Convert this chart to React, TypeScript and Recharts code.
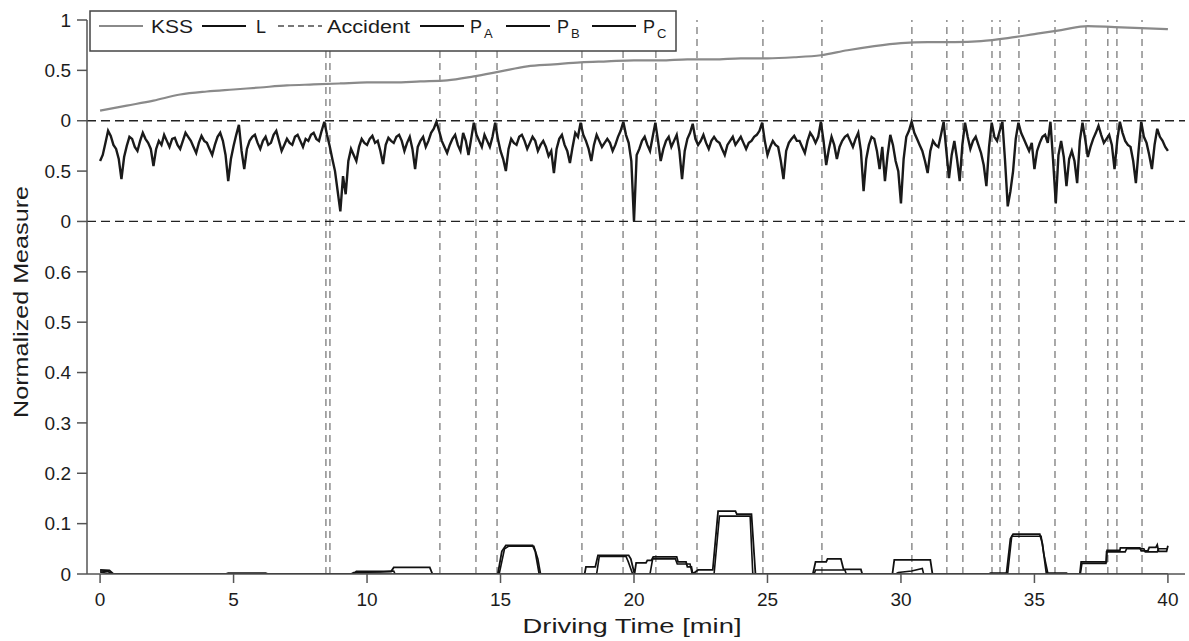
import React from 'react';
import { LineChart, Line, XAxis, YAxis, ReferenceLine } from 'recharts';

// stacked panels share one y axis: P (0..0.7), L (0.7..0.9), KSS (0.9..1.1)
const L_BASE = 0.7;
const KSS_BASE = 0.9;
const PANEL_SPAN = 0.2;

const xTicks = [0, 5, 10, 15, 20, 25, 30, 35, 40];
const yTicks = [0, 0.1, 0.2, 0.3, 0.4, 0.5, 0.6, 0.7, 0.8, 0.9, 1.0, 1.1];
const yTickLabels = ['0', '0.1', '0.2', '0.3', '0.4', '0.5', '0.6', '0', '0.5', '0', '0.5', '1'];

const kssTime = [0, 1, 2, 3, 4, 5, 6, 7, 8, 9, 10, 11, 12, 13, 14, 15, 16, 17, 18, 19, 20,
  21, 22, 23, 24, 25, 26, 27, 28, 29, 30, 31, 32, 33, 34, 35, 36, 37, 38, 39, 40];
const kssValues = [0.10, 0.15, 0.20, 0.26, 0.29, 0.31, 0.33, 0.35, 0.36, 0.37, 0.38, 0.38, 0.39, 0.40,
  0.44, 0.49, 0.54, 0.56, 0.58, 0.59, 0.60, 0.60, 0.61, 0.61, 0.62, 0.62, 0.63, 0.65, 0.70, 0.74,
  0.77, 0.78, 0.78, 0.79, 0.82, 0.86, 0.90, 0.94, 0.93, 0.92, 0.91];

// L sampled every 0.1 min, one row per minute
const L_STEP = 0.1;
const lValues = [
  0.60, 0.66, 0.78, 0.90, 0.85, 0.76, 0.72, 0.62, 0.42, 0.64,
  0.75, 0.84, 0.82, 0.74, 0.70, 0.80, 0.88, 0.82, 0.78, 0.72,
  0.55, 0.72, 0.80, 0.76, 0.86, 0.80, 0.74, 0.82, 0.83, 0.76,
  0.72, 0.80, 0.88, 0.84, 0.80, 0.74, 0.68, 0.78, 0.85, 0.80,
  0.78, 0.72, 0.66, 0.76, 0.84, 0.88, 0.80, 0.66, 0.40, 0.62,
  0.75, 0.86, 0.96, 0.70, 0.52, 0.72, 0.80, 0.84, 0.86, 0.78,
  0.72, 0.80, 0.84, 0.76, 0.78, 0.86, 0.90, 0.80, 0.70, 0.76,
  0.82, 0.78, 0.76, 0.84, 0.86, 0.80, 0.74, 0.82, 0.80, 0.86,
  0.88, 0.82, 0.80, 0.90, 0.99, 0.86, 0.75, 0.62, 0.50, 0.30,
  0.10, 0.45, 0.27, 0.60, 0.72, 0.66, 0.60, 0.74, 0.82, 0.78,
  0.76, 0.82, 0.85, 0.78, 0.80, 0.70, 0.57, 0.76, 0.83, 0.80,
  0.78, 0.84, 0.86, 0.80, 0.70, 0.78, 0.84, 0.72, 0.52, 0.74,
  0.80, 0.84, 0.74, 0.80, 0.88, 0.92, 0.99, 0.90, 0.80, 0.74,
  0.68, 0.76, 0.82, 0.86, 0.76, 0.70, 0.88, 0.80, 0.66, 0.82,
  0.98, 0.86, 0.80, 0.74, 0.86, 0.80, 0.74, 0.84, 0.98, 0.82,
  0.70, 0.62, 0.50, 0.72, 0.82, 0.78, 0.76, 0.84, 0.86, 0.80,
  0.72, 0.78, 0.84, 0.80, 0.70, 0.76, 0.80, 0.74, 0.65, 0.70,
  0.48, 0.72, 0.82, 0.86, 0.76, 0.70, 0.58, 0.74, 0.88, 0.84,
  0.98, 0.86, 0.80, 0.72, 0.60, 0.76, 0.86, 0.80, 0.74, 0.78,
  0.82, 0.78, 0.70, 0.76, 0.84, 0.90, 0.99, 0.86, 0.78, 0.60,
  0.00, 0.66, 0.72, 0.80, 0.84, 0.76, 0.70, 0.84, 0.98, 0.80,
  0.60, 0.72, 0.80, 0.84, 0.74, 0.80, 0.86, 0.70, 0.42, 0.70,
  0.82, 0.88, 0.97, 0.82, 0.76, 0.80, 0.86, 0.78, 0.72, 0.80,
  0.84, 0.80, 0.78, 0.72, 0.66, 0.76, 0.80, 0.84, 0.76, 0.80,
  0.84, 0.78, 0.72, 0.78, 0.80, 0.84, 0.86, 0.90, 0.98, 0.80,
  0.66, 0.74, 0.80, 0.76, 0.74, 0.60, 0.42, 0.70, 0.78, 0.82,
  0.85, 0.80, 0.80, 0.74, 0.68, 0.80, 0.88, 0.84, 0.78, 0.84,
  0.99, 0.80, 0.56, 0.72, 0.84, 0.76, 0.62, 0.74, 0.80, 0.84,
  0.86, 0.80, 0.74, 0.82, 0.88, 0.70, 0.30, 0.62, 0.76, 0.84,
  0.82, 0.70, 0.52, 0.74, 0.40, 0.66, 0.86, 0.76, 0.60, 0.50,
  0.18, 0.62, 0.84, 0.90, 0.99, 0.88, 0.82, 0.76, 0.70, 0.60,
  0.48, 0.70, 0.80, 0.76, 0.74, 0.86, 0.99, 0.70, 0.43, 0.66,
  0.80, 0.62, 0.40, 0.76, 0.98, 0.84, 0.72, 0.80, 0.84, 0.76,
  0.68, 0.56, 0.35, 0.74, 0.98, 0.84, 0.80, 0.90, 0.99, 0.60,
  0.15, 0.30, 0.50, 0.82, 0.98, 0.88, 0.82, 0.76, 0.70, 0.78,
  0.52, 0.70, 0.78, 0.84, 0.86, 0.78, 0.99, 0.60, 0.18, 0.66,
  0.80, 0.64, 0.35, 0.62, 0.70, 0.60, 0.38, 0.80, 0.98, 0.82,
  0.64, 0.74, 0.82, 0.88, 0.95, 0.86, 0.78, 0.82, 0.86, 0.76,
  0.52, 0.80, 0.99, 0.88, 0.80, 0.76, 0.74, 0.60, 0.38, 0.70,
  0.99, 0.84, 0.78, 0.66, 0.52, 0.76, 0.92, 0.84, 0.80, 0.74,
  0.70,
];

const accidentTimes = [8.46, 8.61, 12.73, 14.08, 14.87, 18.05, 19.59, 20.82, 22.36, 24.83, 27.04,
  30.41, 31.72, 32.32, 33.41, 33.71, 34.42, 35.77, 36.93, 37.75, 38.09, 39.03];

const pA: [number, number][] = [
  [0, 0.008], [0.35, 0.007], [0.5, 0], [9.5, 0], [9.6, 0.005], [10.9, 0.005], [11.0, 0.013], [12.35, 0.013], [12.45, 0],
  [14.9, 0], [15.05, 0.045], [15.2, 0.057], [16.2, 0.057], [16.3, 0.045], [16.45, 0],
  [18.15, 0], [18.2, 0.014], [18.55, 0.014], [18.65, 0.037], [19.8, 0.037], [19.88, 0.03], [20.02, 0],
  [20.08, 0.022], [20.45, 0.022], [20.5, 0.027], [20.65, 0.027], [20.72, 0.034], [21.6, 0.034], [21.65, 0.024],
  [21.95, 0.024], [22.0, 0.014], [22.15, 0.014], [22.2, 0],
  [22.4, 0.008], [22.95, 0.008], [23.15, 0.125], [23.8, 0.125], [23.85, 0.119], [24.4, 0.119], [24.55, 0],
  [26.7, 0], [26.8, 0.024], [27.2, 0.024], [27.25, 0.03], [27.75, 0.03], [27.85, 0.009], [28.5, 0.009], [28.55, 0],
  [29.68, 0], [29.75, 0.028], [31.1, 0.028], [31.18, 0],
  [33.95, 0], [34.1, 0.07], [34.2, 0.079], [35.2, 0.079], [35.3, 0.06], [35.45, 0],
  [36.7, 0], [36.75, 0.024], [37.7, 0.024], [37.72, 0.047], [38.2, 0.047], [38.22, 0.052], [38.95, 0.052],
  [39.0, 0.046], [39.25, 0.046], [39.3, 0.053], [39.55, 0.053], [39.6, 0.058], [39.65, 0.045], [39.95, 0.045], [40.0, 0.056],
];

const pB: [number, number][] = [
  [0, 0.004], [0.4, 0], [4.7, 0], [4.8, 0.002], [6.2, 0.002], [6.3, 0],
  [14.95, 0], [15.15, 0.05], [15.3, 0.055], [16.25, 0.055], [16.4, 0.03], [16.5, 0],
  [18.6, 0], [18.7, 0.035], [19.7, 0.035], [19.78, 0.025], [19.95, 0],
  [20.6, 0], [20.7, 0.03], [21.55, 0.03], [21.62, 0.02], [22.1, 0.02], [22.18, 0],
  [23.0, 0], [23.2, 0.115], [24.35, 0.115], [24.45, 0],
  [26.75, 0], [26.8, 0.008], [27.9, 0.008], [27.95, 0],
  [33.3, 0], [33.35, 0.002], [34.0, 0.002], [34.15, 0.075], [35.25, 0.075], [35.35, 0.04], [35.5, 0.002],
  [36.2, 0.002], [36.25, 0],
  [36.72, 0], [36.78, 0.021], [37.68, 0.021], [37.7, 0.044], [38.4, 0.044], [38.45, 0.05], [39.1, 0.05],
  [39.15, 0.044], [39.6, 0.044], [39.65, 0.05], [40, 0.05],
];

const pC: [number, number][] = [
  [0, 0.006], [0.3, 0.005], [0.45, 0], [9.4, 0], [9.5, 0.003], [10.5, 0.004], [11.0, 0.006], [11.05, 0],
  [29.8, 0], [29.9, 0.003], [30.4, 0.006], [30.8, 0.011], [30.85, 0], [40, 0],
];

const FONT = '"Liberation Sans", Arial, sans-serif';
const TEXT = '#1c1c1c';
const AXIS = '#555';

const kssData = kssTime.map((t, i) => ({ t, v: KSS_BASE + PANEL_SPAN * kssValues[i] }));
const lData = lValues.map((v, i) => ({ t: +(i * L_STEP).toFixed(2), v: L_BASE + PANEL_SPAN * v }));
const toData = (pts: [number, number][]) => pts.map(([t, v]) => ({ t, v }));

const yLabel = (v: number) => {
  const idx = yTicks.findIndex((y) => Math.abs(y - v) < 1e-6);
  return idx >= 0 ? yTickLabels[idx] : '';
};

const LegendBox = () => {
  const item = (lx: number, tx: number, label: string, sub: string | null, stroke: string, len?: number, dash?: string) => (
    <g key={label + (sub || '')}>
      <line x1={lx} x2={lx + 44} y1={26} y2={26} stroke={stroke} strokeWidth={2} strokeDasharray={dash} />
      <text x={tx} y={33} fontSize={18} fill={TEXT} fontFamily={FONT}
        textLength={len} lengthAdjust={len ? 'spacingAndGlyphs' : undefined}>
        {label}
      </text>
      {sub && (
        <text x={tx + 14} y={38} fontSize={13} fill={TEXT} fontFamily={FONT}>{sub}</text>
      )}
    </g>
  );
  return (
    <svg
      width={588}
      height={42}
      style={{ position: 'absolute', left: 89, top: 10 }}
      viewBox="89 10 588 42"
    >
      <rect x={90} y={11} width={586} height={40} fill="#fff" stroke="#444" strokeWidth={1.5} />
      {item(99, 151, 'KSS', null, '#8a8a8a', 42)}
      {item(202, 256, 'L', null, '#111')}
      {item(278, 327, 'Accident', null, '#777', 83, '6 4')}
      {item(420, 470, 'P', 'A', '#111')}
      {item(506, 557, 'P', 'B', '#111')}
      {item(592, 643, 'P', 'C', '#111')}
    </svg>
  );
};

export default function App() {
  return (
    <div style={{ position: 'absolute', left: 0, top: 0, width: 1189, height: 641, background: '#fff' }}>
      <LineChart width={1189} height={641} margin={{ top: 20, right: 4, bottom: 5, left: 0 }}>
        <XAxis
          xAxisId="bottom"
          dataKey="t"
          type="number"
          domain={[-0.49, 40.64]}
          allowDataOverflow
          ticks={xTicks}
          tickSize={9}
          tickMargin={10}
          height={62}
          stroke={AXIS}
          strokeWidth={1.5}
          tick={{ fill: TEXT, fontSize: 19, fontFamily: FONT }}
          label={{
            content: () => (
              <text x={632} y={633} textAnchor="middle" fill={TEXT} fontSize={20} fontFamily={FONT}
                textLength={219} lengthAdjust="spacingAndGlyphs">
                Driving Time [min]
              </text>
            ),
          }}
        />
        <XAxis
          xAxisId="top"
          dataKey="t"
          type="number"
          orientation="top"
          mirror
          domain={[-0.49, 40.64]}
          allowDataOverflow
          ticks={xTicks}
          tickSize={9}
          height={0}
          stroke={AXIS}
          strokeWidth={1.5}
          tickFormatter={() => ''}
        />
        <YAxis
          yAxisId="left"
          type="number"
          domain={[0, 1.1]}
          allowDataOverflow
          ticks={yTicks}
          tickFormatter={yLabel}
          tickSize={10}
          tickMargin={6}
          width={87}
          stroke={AXIS}
          strokeWidth={1.5}
          tick={{ fill: TEXT, fontSize: 19, fontFamily: FONT }}
          label={{
            content: ({ viewBox }: any) => {
              const cx = viewBox.x + 28;
              const cy = viewBox.y + viewBox.height / 2 + 5;
              return (
                <text x={cx} y={cy} transform={`rotate(-90 ${cx} ${cy})`} textAnchor="middle"
                  fill={TEXT} fontSize={20} fontFamily={FONT} textLength={232} lengthAdjust="spacingAndGlyphs">
                  Normalized Measure
                </text>
              );
            },
          }}
        />
        <YAxis
          yAxisId="right"
          type="number"
          orientation="right"
          mirror
          domain={[0, 1.1]}
          allowDataOverflow
          ticks={yTicks}
          tickSize={9}
          width={0}
          stroke={AXIS}
          strokeWidth={1.5}
          tickFormatter={() => ''}
        />

        {accidentTimes.map((t) => (
          <ReferenceLine key={t} x={t} xAxisId="bottom" yAxisId="left" stroke="#707070" strokeWidth={1.2} strokeDasharray="7 5" />
        ))}
        <ReferenceLine y={KSS_BASE} xAxisId="bottom" yAxisId="left" stroke="#222" strokeWidth={1.3} strokeDasharray="9 5" />
        <ReferenceLine y={L_BASE} xAxisId="bottom" yAxisId="left" stroke="#222" strokeWidth={1.3} strokeDasharray="9 5" />

        <Line data={kssData} xAxisId="bottom" yAxisId="left" dataKey="v" type="monotone" stroke="#8a8a8a" strokeWidth={2.2}
          dot={false} isAnimationActive={false} name="KSS" />
        <Line data={lData} xAxisId="bottom" yAxisId="left" dataKey="v" type="linear" stroke="#1a1a1a" strokeWidth={2.4}
          dot={false} isAnimationActive={false} name="L" />
        <Line data={toData(pC)} xAxisId="bottom" yAxisId="left" dataKey="v" type="linear" stroke="#111" strokeWidth={1.6}
          dot={false} isAnimationActive={false} name="PC" />
        <Line data={toData(pB)} xAxisId="bottom" yAxisId="left" dataKey="v" type="linear" stroke="#111" strokeWidth={1.6}
          dot={false} isAnimationActive={false} name="PB" />
        <Line data={toData(pA)} xAxisId="bottom" yAxisId="left" dataKey="v" type="linear" stroke="#111" strokeWidth={1.8}
          dot={false} isAnimationActive={false} name="PA" />
      </LineChart>
      <LegendBox />
    </div>
  );
}
